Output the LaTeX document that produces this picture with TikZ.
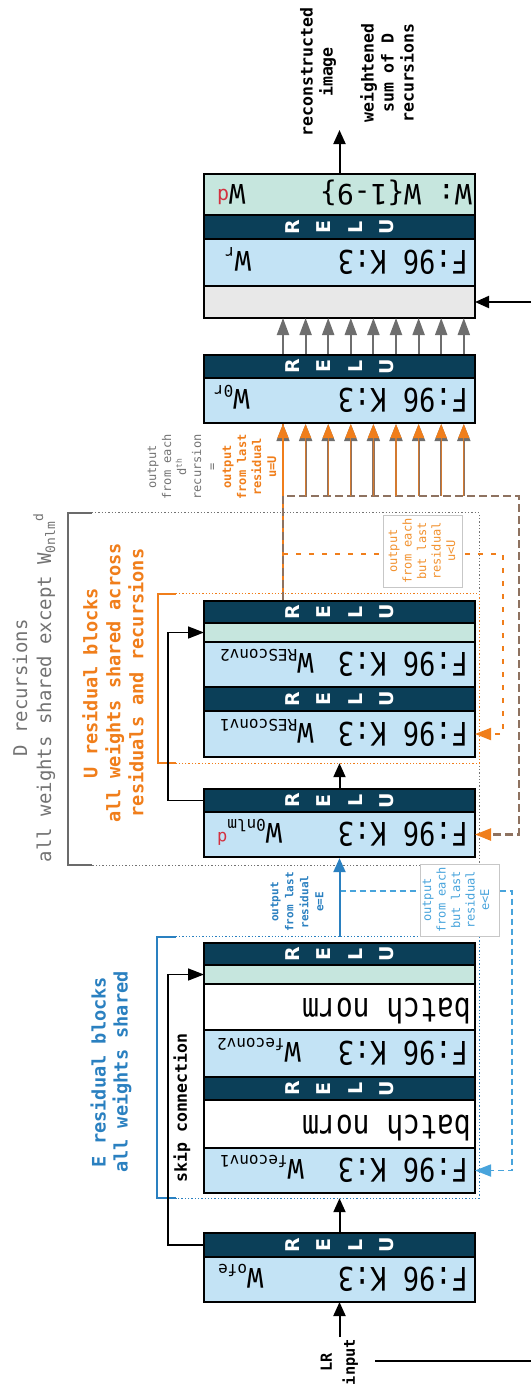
\documentclass[tikz,border=0pt]{standalone}
\usepackage{fontspec}
\setmonofont{DejaVu Sans Mono}
\newfontfamily\sansfam{DejaVu Sans}
\usetikzlibrary{arrows.meta,calc,fit}
\newcommand\fs[2]{\fontsize{#1}{#2}\selectfont}
\definecolor{darkbar}{HTML}{0B3F58}
\definecolor{lblue}{HTML}{C3E3F5}
\definecolor{lgreen}{HTML}{C6E6DE}
\definecolor{lgray}{HTML}{E8E8E8}
\definecolor{eblue}{HTML}{2A80C0}
\definecolor{dblue}{HTML}{48A4DC}
\definecolor{orng}{HTML}{F07E1B}
\definecolor{orngl}{HTML}{F2922F}
\definecolor{dgray}{HTML}{6B6B6B}
\definecolor{tgray}{HTML}{737373}
\definecolor{arrgray}{HTML}{6E6E6E}
\definecolor{brn}{HTML}{8E7260}
\definecolor{wred}{HTML}{D3303F}
\begin{document}
\begin{tikzpicture}[x=1pt,y=-1pt,
  sec/.style={draw=black, line width=1.3pt, minimum width=271pt, inner sep=0pt, outer sep=0pt},
  outer/.style={draw=black, line width=2.2pt, inner sep=0pt},
  relutxt/.style={rotate=90, align=center, text=white, inner sep=0pt, font=\sansfam\bfseries\fs{19}{31.5}},
  ftxt/.style={rotate=180, inner sep=0pt, anchor=base west, font=\ttfamily\fs{27}{27}},
  wtxt/.style={rotate=180, inner sep=0pt, anchor=base east, font=\ttfamily\fs{27}{27}},
  frame/.style={draw=none, inner sep=0pt},
  lbox/.style={draw=black!22, fill=white, line width=0.8pt, inner sep=0pt, minimum width=79pt, minimum height=72pt},
  lab/.style={rotate=90, align=center, inner sep=0pt},
  blk/.style={line width=2pt, -{Triangle[length=14pt,width=12pt]}},
  skip/.style={line width=1.6pt, -{Triangle[length=16pt,width=12pt]}},
  dots/.style={line width=1.3pt, dash pattern=on 1.3pt off 2pt},
]
\useasboundingbox (0,0) rectangle (531,1385);

% ---------- frames ----------
\node[frame, minimum width=411pt, minimum height=352pt] (frD) at (273.5,689) {};
\node[frame, minimum width=321pt, minimum height=169pt] (frU) at (318.5,678.5) {};
\node[frame, minimum width=322pt, minimum height=261pt] (frE) at (318,1067.5) {};
\draw[dots, black!55] ($(frD.north west)+(24,0)$) -- (frD.north east) -- (frD.south east) -- ($(frD.south west)+(24,0)$);
\draw[dgray, line width=2.5pt] ($(frD.north west)+(24,0)$) -- (frD.north west) -- (frD.south west) -- ($(frD.south west)+(24,0)$);
\draw[dots, orng] ($(frU.north west)+(18,0)$) -- (frU.north east) -- (frU.south east) -- ($(frU.south west)+(18,0)$);
\draw[orng, line width=2.2pt] ($(frU.north west)+(18,0)$) -- (frU.north west) -- (frU.south west) -- ($(frU.south west)+(18,0)$);
\draw[dots, eblue] ($(frE.north west)+(19,0)$) -- (frE.north east) -- (frE.south east) -- ($(frE.south west)+(19,0)$);
\draw[eblue, line width=2.2pt] ($(frE.north west)+(19,0)$) -- (frE.north west) -- (frE.south west) -- ($(frE.south west)+(19,0)$);

% ---------- boxes ----------
% output stack
\node[sec, fill=lgreen, minimum height=41pt] (fin) at (339.5,194.5) {};
\node[sec, fill=darkbar, minimum height=24pt] (relT) at (339.5,227) {};
\node[sec, fill=lblue, minimum height=47pt] (wr) at (339.5,262.5) {};
\node[sec, fill=lgray, minimum height=32pt] (gsum) at (339.5,302) {};
\node[outer, fit=(fin)(gsum)] (boxT) {};
% W_0r
\node[sec, fill=darkbar, minimum height=23pt] (rel0r) at (339.5,366.5) {};
\node[sec, fill=lblue, minimum height=45pt] (b0r) at (339.5,400.5) {};
\node[outer, fit=(rel0r)(b0r)] (box0r) {};
% U block
\node[sec, fill=darkbar, minimum height=22pt] (relU2) at (339.5,612) {};
\node[sec, fill=lgreen, minimum height=19pt] (addU) at (339.5,632.5) {};
\node[sec, fill=lblue, minimum height=45pt] (bRes2) at (339.5,664.5) {};
\node[sec, fill=darkbar, minimum height=24pt] (relU1) at (339.5,699) {};
\node[sec, fill=lblue, minimum height=46pt] (bRes1) at (339.5,734) {};
\node[outer, fit=(relU2)(bRes1)] (boxU) {};
% W_0nlm
\node[sec, fill=darkbar, minimum height=23pt] (relN) at (339.5,800.5) {};
\node[sec, fill=lblue, minimum height=45pt] (bN) at (339.5,834.5) {};
\node[outer, fit=(relN)(bN)] (boxN) {};
% E block
\node[sec, fill=darkbar, minimum height=22pt] (relE2) at (339.5,954) {};
\node[sec, fill=lgreen, minimum height=19pt] (addE) at (339.5,974.5) {};
\node[sec, fill=white, minimum height=46pt] (bn2) at (339.5,1007) {};
\node[sec, fill=lblue, minimum height=47pt] (bFe2) at (339.5,1053.5) {};
\node[sec, fill=darkbar, minimum height=23pt] (relE1) at (339.5,1088.5) {};
\node[sec, fill=white, minimum height=48pt] (bn1) at (339.5,1124) {};
\node[sec, fill=lblue, minimum height=45pt] (bFe1) at (339.5,1170.5) {};
\node[outer, fit=(relE2)(bFe1)] (boxE) {};
% W_ofe
\node[sec, fill=darkbar, minimum height=24pt] (relO) at (339.5,1245) {};
\node[sec, fill=lblue, minimum height=45pt] (bO) at (339.5,1279.5) {};
\node[outer, fit=(relO)(bO)] (boxO) {};

% ---------- RELU texts ----------
\foreach \r in {relT,rel0r,relU2,relU1,relN,relE2,relE1,relO}
  \node[relutxt] (t\r) at (\r) {R\\E\\L\\U};

% ---------- box texts ----------
\node[ftxt, font=\ttfamily\fs{28}{28}] (tfin) at (472,184.5) {W: W\{1-9\}};
\node[wtxt] (tfinw) at (217,184.5) {W\raisebox{5pt}{\fs{20}{20}\color{wred}d}};
\node[ftxt] (fwr) at (468,250.7) {\scalebox{1}[1.2]{F:96 K:3}};
\node[wtxt] (wwr) at (225,251.5) {W\raisebox{-4pt}{\fs{16}{16}r}};
\node[ftxt] (f0r) at (468,388.7) {\scalebox{1}[1.2]{F:96 K:3}};
\node[wtxt] (w0r) at (214,389.5) {W\raisebox{-4pt}{\fs{16}{16}0r}};
\node[ftxt] (fR2) at (468,652.7) {\scalebox{1}[1.2]{F:96 K:3}};
\node[wtxt] (wR2) at (220,653.5) {W\raisebox{-4pt}{\fs{16}{16}RESconv2}};
\node[ftxt] (fR1) at (468,722.2) {\scalebox{1}[1.2]{F:96 K:3}};
\node[wtxt] (wR1) at (220,723) {W\raisebox{-4pt}{\fs{16}{16}RESconv1}};
\node[ftxt] (fN) at (468,822.7) {\scalebox{1}[1.2]{F:96 K:3}};
\node[wtxt] (wN) at (217,823.5) {W\raisebox{-4pt}{\fs{16}{16}0nlm}\raisebox{9pt}{\fs{17}{17}\color{wred}d}};
\node[ftxt, font=\ttfamily\fs{28}{28}] (tbn2) at (471,998) {\scalebox{1}[1.2]{batch norm}};
\node[ftxt] (fF2) at (468,1041.7) {\scalebox{1}[1.2]{F:96 K:3}};
\node[wtxt] (wF2) at (217,1042.5) {W\raisebox{-4pt}{\fs{16}{16}feconv2}};
\node[ftxt, font=\ttfamily\fs{28}{28}] (tbn1) at (471,1115) {\scalebox{1}[1.2]{batch norm}};
\node[ftxt] (fF1) at (468,1158.7) {\scalebox{1}[1.2]{F:96 K:3}};
\node[wtxt] (wF1) at (220,1159.5) {W\raisebox{-4pt}{\fs{16}{16}feconv1}};
\node[ftxt] (fO) at (468,1267.7) {\scalebox{1}[1.2]{F:96 K:3}};
\node[wtxt] (wO) at (218,1268.5) {W\raisebox{-4pt}{\fs{16}{16}ofe}};

% ---------- coordinates ----------
\coordinate (lrIn) at (339.5,1337);
\coordinate (lrA) at (375,1361);
\coordinate (lrB) at (531,1361);
\coordinate (inR) at (531,302);
\coordinate (outTip) at (339.5,130);
\coordinate (recTop) at (0,496);
\coordinate (fbR) at (519,496);
\coordinate (ouR) at (503,554);
\coordinate (ebR) at (512,891);
\foreach \k in {0,...,8} \coordinate (gx\k) at ({283+22.6*\k},0);

% ---------- dashed feedback lines ----------
\draw[dblue, line width=1.8pt, dash pattern=on 6pt off 4pt, -{Triangle[length=16pt,width=12pt]}]
  (boxE.north |- ebR) -- (ebR) -- (ebR |- bFe1.east) -- (bFe1.east);
\draw[orng, line width=1.6pt] (boxU.north -| gx0) -- (box0r.south -| gx0);
\draw[orng, line width=2pt, dash pattern=on 5pt off 8pt, -{Triangle[length=16pt,width=12pt]}]
  (gx0 |- ouR) -- (ouR) -- (ouR |- bRes1.east) -- (bRes1.east);
\draw[brn, line width=2.4pt, dash pattern=on 8pt off 4pt, -{Triangle[length=16pt,width=12pt,color=orng]}]
  (boxU.north -| gx0) -- (gx0 |- fbR) -- (fbR) -- (fbR |- bN.east) -- (bN.east);

% ---------- label boxes ----------
\node[lbox] (lbE) at (459.5,900) {};
\node[lbox] (lbU) at (422.5,551) {};

% ---------- arrows ----------
\draw[blk] (lrIn) -- (bO.south);
\draw[line width=2pt] (lrA) -- (lrB);
\draw[blk] (boxO.north) -- (boxO.north |- frE.south);
\draw[line width=2pt, eblue, -{Triangle[length=14pt,width=12pt]}] (boxE.north |- frE.north) -- (boxN.south);
\draw[blk] (boxN.north) -- (boxN.north |- frU.south);
\draw[blk] (boxT.north) -- (outTip);
\draw[blk] (inR) -- (gsum.east);
\draw[skip] (relO.west) -- ++(-36,0) |- (addE.west);
\draw[skip] (relN.west) -- ++(-36,0) |- (addU.west);
\foreach \k in {0,...,8}
  \draw[line width=2pt, arrgray, -{Triangle[length=17pt,width=12pt]}] (box0r.north -| gx\k) -- (gsum.south -| gx\k);
\draw[line width=1.6pt, orng, -{Triangle[length=17pt,width=13pt,color=arrgray]}] (gx0 |- fbR) -- (box0r.south -| gx0);
\draw[line width=1.6pt, orng, -{Triangle[length=14pt,width=11pt]}] (gx0 |- fbR) -- (box0r.south -| gx0);
\foreach \k in {1,...,8} {
  \draw[line width=2.2pt, brn, -{Triangle[length=17pt,width=13pt,color=arrgray]}] (gx\k |- recTop) -- (box0r.south -| gx\k);
  \draw[line width=1.1pt, orng!70!brn, -{Triangle[length=14pt,width=11pt,color=orng]}] (gx\k |- recTop) -- (box0r.south -| gx\k);
}

% ---------- labels ----------
\node[lab, font=\ttfamily\bfseries\fs{16.5}{20}] (recon) at (318,72) {reconstructed\\image};
\node[lab, font=\ttfamily\bfseries\fs{16.5}{20}] (wsum) at (387,73) {weightened\\sum of D\\recursions};
\node[lab, font=\ttfamily\bfseries\fs{15.3}{23}] (lrtxt) at (339.5,1362) {LR\\input};
\node[lab, font=\ttfamily\bfseries\fs{16.5}{20}] (skiptxt) at (182,1108) {skip connection};
\node[lab, text=eblue, font=\ttfamily\bfseries\fs{18.6}{22}] (Elab) at (111,1072) {E residual blocks\\all weights shared};
\node[lab, text=orng, font=\ttfamily\bfseries\fs{18.6}{23}] (Ulab) at (113,683) {U residual blocks\\all weights shared across\\residuals and recursions};
\node[lab, text=tgray, font=\ttfamily\fs{19}{24}] (Dlab) at (34,688) {D recursions\\all weights shared except W\raisebox{-4pt}{\fs{13}{13}0nlm}\raisebox{8pt}{\fs{13}{13}d}};
\node[lab, text=eblue, font=\ttfamily\bfseries\fs{11}{15}] (eEq) at (297,902) {output\\from last\\residual\\e=E};
\node[lab, text=dblue, font=\ttfamily\fs{12}{14.5}] (eLt) at (456,900) {output\\from each\\but last\\residual\\e<E};
\node[lab, text=orngl, font=\ttfamily\fs{12}{14.5}] (uLt) at (422,551) {output\\from each\\but last\\residual\\u<U};
\node[lab, font=\ttfamily\fs{12}{15}] (dOut) at (212,467) {\textcolor{tgray}{output}\\\textcolor{tgray}{from each}\\\textcolor{tgray}{d\textsuperscript{th}}\\\textcolor{tgray}{recursion}\\\textcolor{tgray}{=}\\\textcolor{orng}{\bfseries output}\\\textcolor{orng}{\bfseries from last}\\\textcolor{orng}{\bfseries residual}\\\textcolor{orng}{\bfseries u=U}};
\end{tikzpicture}
\end{document}
